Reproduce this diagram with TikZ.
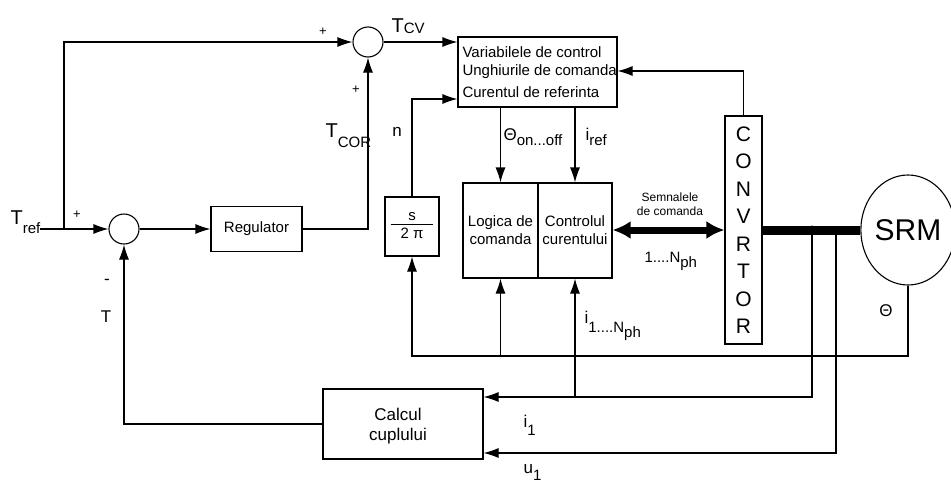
\documentclass[tikz,border=0pt]{standalone}
\usepackage{fontspec}
\setmainfont{Liberation Sans}
\usetikzlibrary{arrows.meta,shapes.geometric}
\newcommand{\myfs}[1]{\fontsize{#1}{#1}\selectfont}
\newcommand{\lowsub}[2]{\raisebox{-#1pt}{\myfs{15}#2}}
\begin{document}
\begin{tikzpicture}[x=1pt,y=-1pt,line width=1.1pt,
  box/.style={draw,rectangle,inner sep=0pt,font=\myfs{15}},
  sumnode/.style={draw,circle,minimum size=30pt,inner sep=0pt},
  arr/.style={-{Latex[length=15pt,width=10pt]}},
  busarrow/.style={line width=7pt,{Latex[length=18pt,width=18pt]}-{Latex[length=18pt,width=18pt]}},
  lbl/.style={inner sep=0pt,font=\myfs{15}},
  sublbl/.style={inner sep=0pt,anchor=base west},
]
\useasboundingbox (0,0) rectangle (951,485);
% nodes
\node[sumnode] (sumTop) at (368,42) {};
\node[sumnode] (sumBot) at (124,229) {};
\node[box,minimum width=91pt,minimum height=45pt] (reg) at (256.5,229) {Regulator};
\node[box,minimum width=159pt,minimum height=70pt] (var) at (537.5,72) {};
\node[lbl,anchor=west] (v1) at (462,52) {Variabilele de control};
\node[lbl,anchor=west] (v2) at (462,72) {Unghiurile de comanda};
\node[lbl,anchor=west] (v3) at (462,92) {Curentul de referinta};
\node[box,minimum width=54pt,minimum height=59pt] (sbox) at (412,226.5)
  {\setlength{\tabcolsep}{10pt}\begin{tabular}{c}s\\[-1pt]\hline\rule{0pt}{14pt}2 π\end{tabular}};
\node[box,minimum width=75pt,minimum height=95pt,align=center] (logica) at (500.5,230.5)
  {Logica de\\[3pt]comanda};
\node[box,minimum width=74pt,minimum height=95pt,align=center] (control) at (575,230.5)
  {Controlul\\[3pt]curentului};
\node[box,minimum width=37pt,minimum height=228pt,align=center,font=\myfs{21}] (conv) at (743.5,230)
  {C\\[6.5pt]O\\[6.5pt]N\\[6.5pt]V\\[6.5pt]R\\[6.5pt]T\\[6.5pt]O\\[6.5pt]R};
\node[draw,ellipse,minimum width=94pt,minimum height=110pt,inner sep=0pt,font=\myfs{30}] (srm) at (908,230) {SRM};
\node[box,minimum width=160pt,minimum height=70pt] (calc) at (403,424) {};
\node[lbl,font=\myfs{17}] (c1) at (398,414) {Calcul};
\node[lbl,font=\myfs{17}] (c2) at (398,436) {cuplului};
% helper coordinates
\coordinate (tref) at (40,229);
\coordinate (br) at (64,229);
\coordinate (y99) at (0,99);
\coordinate (y71) at (0,71);
\coordinate (bus) at (0,230);
\coordinate (tap1) at (812,230);
\coordinate (tap2) at (836,230);
\coordinate (yi1) at (0,397);
\coordinate (yu1) at (0,453);
\coordinate (thc) at (412,356);
% connectors
\draw[arr] (tref) -- (sumBot.west);
\draw[arr] (br) |- (sumTop.west);
\draw[arr] (sumTop.east) -- (var.west |- sumTop.east);
\draw[arr] (sumBot.east) -- (reg.west);
\draw[arr] (reg.east) -| (sumTop.south);
\draw[arr] (sbox.north) |- (var.west |- y99);
\draw[arr] (var.south -| logica.north) -- (logica.north);
\draw[arr] (var.south -| control.north) -- (control.north);
\draw[arr] (conv.north) |- (var.east |- y71);
\draw[busarrow] (control.east |- bus) -- (conv.west |- bus);
\draw[line width=9pt] (conv.east |- bus) -- (srm.west);
\fill (tap1) circle (4.5pt);
\draw[arr] (tap1) |- (calc.east |- yi1);
\draw[arr] (tap2) |- (calc.east |- yu1);
\draw[arr] (srm.south) |- (thc) -- (sbox.south);
\draw[arr] (logica.south |- thc) -- (logica.south);
\draw[arr] (control.south |- yi1) -- (control.south);
\draw[arr] (calc.west) -| (sumBot.south);
% labels
\node[lbl,font=\myfs{13}] (p1) at (323,32) {+};
\node[lbl,font=\myfs{13}] (p2) at (356,90) {+};
\node[lbl,font=\myfs{13}] (p3) at (77,215) {+};
\node[lbl,font=\myfs{17}] (m1) at (107,282) {-};
\node[lbl,font=\myfs{17}] (tl) at (106,317) {T};
\node[lbl,font=\myfs{17}] (nl) at (397,132) {n};
\node[lbl,font=\myfs{17}] (thl) at (886,311) {Θ};
\node[sublbl] (tcv) at (391,32) {\myfs{20}T\lowsub{1}{CV}};
\node[sublbl] (trefl) at (10,224) {\myfs{20}T\lowsub{9}{ref}};
\node[sublbl] (tcor) at (325,137) {\myfs{20}T\lowsub{10}{COR}};
\node[sublbl] (thon) at (503,140) {\myfs{17}Θ\lowsub{5}{on...off}};
\node[sublbl] (iref) at (585,140) {\myfs{17}i\lowsub{5}{ref}};
\node[sublbl] (iall) at (584,323) {\myfs{17}i\lowsub{9}{1....N\lowsub{5}{ph}}};
\node[sublbl] (nph) at (644,262) {\myfs{15}1....N\lowsub{5}{ph}};
\node[lbl,font=\myfs{12}] (sem1) at (670,197) {Semnalele};
\node[lbl,font=\myfs{12}] (sem2) at (670,211) {de comanda};
\node[sublbl] (i1) at (523,427) {\myfs{17}i\lowsub{8}{1}};
\node[sublbl] (u1) at (523,473) {\myfs{17}u\lowsub{7}{1}};
\end{tikzpicture}
\end{document}
